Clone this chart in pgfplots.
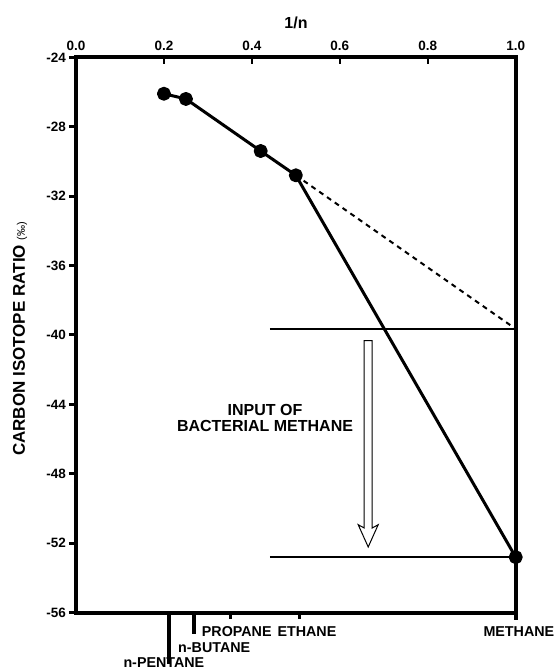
\documentclass[border=0pt]{standalone}
\usepackage{pgfplots}
\pgfplotsset{compat=1.18}
\usepackage{fontspec}
\setmainfont{Liberation Sans}
\begin{document}
\begin{tikzpicture}
\begin{axis}[
  scale only axis, width=439.7pt, height=555.4pt,
  xmin=0, xmax=1, ymin=-56, ymax=-24,
  clip=false,
  axis line style={line width=3.7pt, line join=miter},
  tick align=outside,
  major tick length=7pt,
  tick style={black, line width=3pt},
  xtick={0,0.2,0.4,0.6,0.8,1},
  xtick pos=right, xticklabel pos=right,
  xtick style={draw=none},
  ytick={-56,-52,-48,-44,-40,-36,-32,-28,-24},
  ytick pos=left,
  minor tick num=0,
  /pgf/number format/assume math mode=true,
  xticklabel style={font=\bfseries\fontsize{13.5}{15}\selectfont, yshift=-3.5pt,
    /pgf/number format/fixed, /pgf/number format/fixed zerofill, /pgf/number format/precision=1},
  yticklabel style={font=\bfseries\fontsize{13.5}{15}\selectfont, xshift=0.5pt},
]
\coordinate (sw) at (rel axis cs:0,0);
\coordinate (t2) at (axis cs:0.2,-24);
\coordinate (t4) at (axis cs:0.4,-24);
\coordinate (t6) at (axis cs:0.6,-24);
\coordinate (t8) at (axis cs:0.8,-24);
\coordinate (bpent) at (axis cs:0.211,-56);
\coordinate (bbut) at (axis cs:0.268,-56);
\coordinate (bprop) at (axis cs:0.3525,-56);
\coordinate (beth) at (axis cs:0.508,-56);
\coordinate (bmeth) at (axis cs:1,-56);
% dashed extrapolation
\addplot[black, line width=2pt, dash pattern=on 5pt off 4.5pt] coordinates {(0.5,-30.8) (1.0,-39.65)};
% horizontal reference lines
\addplot[black, line width=1.6pt] coordinates {(0.441,-39.65) (1.0,-39.65)};
\addplot[black, line width=1.6pt] coordinates {(0.441,-52.8) (1.0,-52.8)};
% measured data
\addplot[black, line width=3pt, line join=round, mark=*, mark size=5.5pt, mark options={solid, fill=black}]
  coordinates {(0.2,-26.1) (0.25,-26.4) (0.42,-29.4) (0.5,-30.8) (1.0,-52.8)};
\end{axis}
% top ticks (inside)
\draw[line width=2.6pt] (t2) -- ++(0,-7pt);
\draw[line width=2.6pt] (t4) -- ++(0,-7pt);
\draw[line width=2.6pt] (t6) -- ++(0,-7pt);
\draw[line width=2.2pt] (t8) -- ++(0,-7pt);
% bottom compound ticks
\draw[line width=4pt] (bpent) -- ++(0,-51.3pt);
\draw[line width=4pt] (bbut) -- ++(0,-21.3pt);
\draw[line width=3pt] (bprop) -- ++(0,-6.5pt);
\draw[line width=3pt] (beth) -- ++(0,-6.5pt);
\draw[line width=3.7pt] (bmeth) -- ++(0,-7.3pt);
% bottom labels
\begin{scope}[every node/.style={inner sep=0pt, font=\bfseries\fontsize{14.3}{16}\selectfont}]
\node[anchor=base west] at ([xshift=125.7pt,yshift=-23.3pt]sw) {PROPANE};
\node[anchor=base west] at ([xshift=201.3pt,yshift=-23.3pt]sw) {ETHANE};
\node[anchor=base west] at ([xshift=102pt,yshift=-40pt]sw) {n-BUTANE};
\node[anchor=base west] at ([xshift=47.3pt,yshift=-54.3pt]sw) {n-PENTANE};
\node[anchor=base west] at ([xshift=407.3pt,yshift=-23.3pt]sw) {METHANE};
\end{scope}
% axis titles
\node[anchor=base, inner sep=0pt, font=\bfseries\fontsize{16}{18}\selectfont] at ([xshift=220pt,yshift=584.2pt]sw) {1/n};
\node[rotate=90, anchor=center, inner sep=0pt, font=\bfseries\fontsize{17}{19}\selectfont] at ([xshift=-56pt,yshift=273.7pt]sw)
  {CARBON ISOTOPE RATIO {\mdseries\fontsize{11}{13}\selectfont(‰)}};
% annotation text
\node[anchor=base, inner sep=0pt, font=\bfseries\fontsize{16}{18}\selectfont] at ([xshift=189pt,yshift=196.7pt]sw) {INPUT OF};
\node[anchor=base, inner sep=0pt, font=\bfseries\fontsize{16}{18}\selectfont] at ([xshift=189pt,yshift=180.7pt]sw) {BACTERIAL METHANE};
% hollow arrow
\draw[line width=1pt, fill=white, line join=miter]
  ([xshift=288.2pt,yshift=272pt]sw) -- ([xshift=296.2pt,yshift=272pt]sw)
  -- ([xshift=296.2pt,yshift=84.7pt]sw) -- ([xshift=302.2pt,yshift=88pt]sw)
  -- ([xshift=292.2pt,yshift=65.7pt]sw) -- ([xshift=282.2pt,yshift=88pt]sw)
  -- ([xshift=288.2pt,yshift=84.7pt]sw) -- cycle;
\pgfresetboundingbox
\path[use as bounding box] ([xshift=-76pt,yshift=-58.3pt]sw) rectangle ([xshift=482pt,yshift=612.7pt]sw);
\end{tikzpicture}
\end{document}
